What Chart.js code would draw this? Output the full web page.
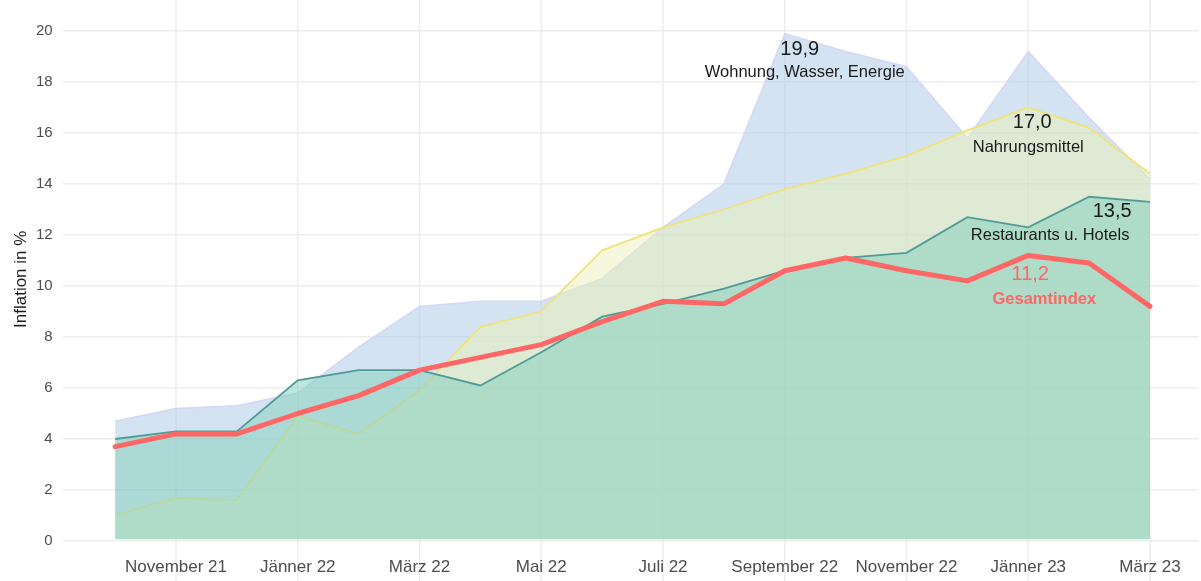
<!DOCTYPE html>
<html>
<head>
<meta charset="utf-8">
<script src="https://cdn.jsdelivr.net/npm/chart.js@4.4.1/dist/chart.umd.min.js"></script>
<style>
html,body{margin:0;padding:0;background:#fff;}
canvas{display:block;}
</style>
</head>
<body>
<canvas id="c" width="1201" height="581"></canvas>
<script>
const months = ["Oktober 21","November 21","Dezember 21","Jänner 22","Februar 22","März 22","April 22","Mai 22","Juni 22","Juli 22","August 22","September 22","Oktober 22","November 22","Dezember 22","Jänner 23","Februar 23","März 23"];
const wohnung     = [4.7, 5.2, 5.3, 5.8, 7.6, 9.2, 9.4, 9.4, 10.3, 12.3, 14.0, 19.9, 19.2, 18.6, 15.8, 19.2, 16.6, 14.2];
const nahrung     = [1.0, 1.7, 1.6, 4.9, 4.2, 5.9, 8.4, 9.0, 11.4, 12.3, 13.0, 13.8, 14.4, 15.1, 16.1, 17.0, 16.2, 14.4];
const restaurants = [4.0, 4.3, 4.3, 6.3, 6.7, 6.7, 6.1, 7.4, 8.8, 9.3, 9.9, 10.6, 11.1, 11.3, 12.7, 12.3, 13.5, 13.3];
const gesamt      = [3.7, 4.2, 4.2, 5.0, 5.7, 6.7, 7.2, 7.7, 8.6, 9.4, 9.3, 10.6, 11.1, 10.6, 10.2, 11.2, 10.9, 9.2];
const xTickIdx    = [1, 3, 5, 7, 9, 11, 13, 15, 17];
const xTickLabels = ["November 21","Jänner 22","März 22","Mai 22","Juli 22","September 22","November 22","Jänner 23","März 23"];
const yTicks      = [0, 2, 4, 6, 8, 10, 12, 14, 16, 18, 20];
const seriesNames = ["Wohnung, Wasser, Energie", "Nahrungsmittel", "Restaurants u. Hotels", "Gesamtindex"];

const FONT = "'Liberation Sans', Arial, Helvetica, sans-serif";
const GRID = '#ededed';
const pts = arr => arr.map((v, i) => ({x: i, y: v}));
const fmt = v => v.toFixed(1).replace('.', ',');

const labelDefs = [
  {data: wohnung, idx: 11, name: seriesNames[0], color: '#1a1a1a', bold: false, nx: 15, ny: 16, mx: 20, my: 39},
  {data: nahrung, idx: 15, name: seriesNames[1], color: '#1a1a1a', bold: false, nx: 4, ny: 15, mx: 0, my: 40},
  {data: restaurants, idx: 16, name: seriesNames[2], color: '#1a1a1a', bold: false, nx: 23, ny: 15, mx: -39, my: 39},
  {data: gesamt, idx: 15, name: seriesNames[3], color: '#ff6666', bold: true, nx: 2, ny: 19, mx: 16, my: 44}
];

// vertical grid lines at the labelled months, running the full height of the picture
const gridExtend = {
  id: 'gridExtend',
  beforeDraw(chart) {
    const ctx = chart.ctx, xs = chart.scales.x;
    ctx.save();
    ctx.strokeStyle = GRID;
    ctx.lineWidth = 1.5;
    xTickIdx.forEach(v => {
      const px = xs.getPixelForValue(v);
      ctx.beginPath();
      ctx.moveTo(px, 0);
      ctx.lineTo(px, chart.height);
      ctx.stroke();
    });
    ctx.restore();
  }
};

const labelPlugin = {
  id: 'seriesLabels',
  afterDatasetsDraw(chart) {
    const ctx = chart.ctx, xs = chart.scales.x, ys = chart.scales.y;
    ctx.save();
    ctx.textAlign = 'center';
    ctx.textBaseline = 'middle';
    labelDefs.forEach(d => {
      const v = d.data[d.idx];
      const px = xs.getPixelForValue(d.idx), py = ys.getPixelForValue(v);
      ctx.fillStyle = d.color;
      ctx.font = '20px ' + FONT;
      ctx.fillText(fmt(v), px + d.nx, py + d.ny);
      ctx.font = (d.bold ? 'bold ' : '') + '16.5px ' + FONT;
      ctx.fillText(d.name, px + d.mx, py + d.my);
    });
    ctx.restore();
  }
};

const chart = new Chart(document.getElementById('c'), {
  type: 'line',
  data: {
    datasets: [
      {label: seriesNames[3], data: pts(gesamt), order: 1, borderColor: '#ff6666', borderWidth: 5, fill: false, pointRadius: 0, borderJoinStyle: 'round', borderCapStyle: 'round'},
      {label: seriesNames[2], data: pts(restaurants), order: 2, borderColor: '#4f9b95', borderWidth: 1.8, backgroundColor: 'rgba(132,208,188,0.52)', fill: 'origin', pointRadius: 0},
      {label: seriesNames[1], data: pts(nahrung), order: 3, borderColor: '#f1e27a', borderWidth: 1.8, backgroundColor: 'rgba(235,241,184,0.49)', fill: 'origin', pointRadius: 0},
      {label: seriesNames[0], data: pts(wohnung), order: 4, borderColor: 'rgba(214,214,246,1)', borderWidth: 1.5, backgroundColor: 'rgba(170,200,230,0.5)', fill: 'origin', pointRadius: 0}
    ]
  },
  options: {
    responsive: false,
    devicePixelRatio: 1,
    animation: false,
    layout: {padding: {left: 9.5, right: 0, top: 0, bottom: -15}},
    plugins: {legend: {display: false}, tooltip: {enabled: false}, filler: {drawTime: 'beforeDatasetDraw'}},
    scales: {
      x: {
        type: 'linear',
        min: -0.85,
        max: 17.85,
        afterBuildTicks: s => { s.ticks = xTickIdx.map(v => ({value: v})); },
        ticks: {
          callback: (v) => { const k = xTickIdx.indexOf(v); return k >= 0 ? xTickLabels[k] : ''; },
          font: {family: FONT, size: 17},
          color: '#4d4d4d',
          padding: 18,
          maxRotation: 0,
          autoSkip: false
        },
        grid: {display: true, drawOnChartArea: false, drawTicks: false, color: GRID},
        border: {display: false}
      },
      y: {
        type: 'linear',
        min: 0,
        max: 21,
        afterBuildTicks: s => { s.ticks = yTicks.map(v => ({value: v})); },
        ticks: {font: {family: FONT, size: 15}, color: '#4d4d4d', padding: 10},
        grid: {color: GRID, lineWidth: 1.5, drawTicks: false},
        border: {display: false},
        title: {display: true, text: 'Inflation in %', font: {family: FONT, size: 17}, color: '#1a1a1a', padding: {top: 2, bottom: -6}}
      }
    }
  },
  plugins: [gridExtend, labelPlugin]
});

// map values onto the reference's pixel grid: 0 at y=541, 20 at y=31; Nov 21 at x=176, März 23 at x=1150
for (let k = 0; k < 3; k++) {
  const ca = chart.chartArea;
  chart.options.scales.y.min = (541 - ca.bottom) / 25.5;
  chart.options.scales.y.max = (541 - ca.top) / 25.5;
  chart.options.scales.x.min = 1 - (176 - ca.left) / 60.875;
  chart.options.scales.x.max = 17 + (ca.right - 1150) / 60.875;
  chart.update('none');
}
</script>
</body>
</html>
